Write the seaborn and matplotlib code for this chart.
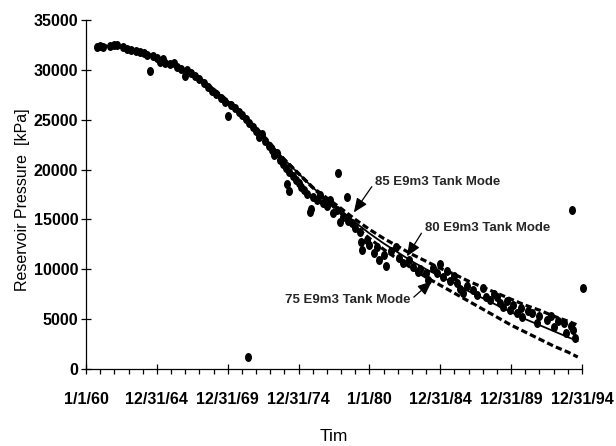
import matplotlib
matplotlib.use("Agg")
import matplotlib.pyplot as plt
from matplotlib import font_manager
from matplotlib.path import Path
from matplotlib.transforms import Affine2D
import seaborn as sns
import pandas as pd

# ---------------- data ----------------
obs_year = [1960.8, 1961.0, 1961.2, 1961.7, 1962.0, 1962.2, 1962.6, 1962.9, 1963.2, 1963.5,
            1963.8, 1964.1, 1964.3, 1964.5, 1964.7, 1965.0, 1965.2, 1965.4, 1965.6, 1965.9,
            1966.2, 1966.4, 1966.7, 1967.0, 1967.1, 1967.4, 1967.7, 1968.0, 1968.3, 1968.6,
            1968.9, 1969.2, 1969.5, 1969.8, 1970.0, 1970.2, 1970.5, 1970.8, 1971.0, 1971.3,
            1971.5, 1971.8, 1972.0, 1972.2, 1972.4, 1972.6, 1972.9, 1973.1, 1973.3, 1973.5,
            1973.7, 1973.9, 1974.1, 1974.2, 1974.3, 1974.3, 1974.6, 1974.8, 1975.0, 1975.2,
            1975.4, 1975.6, 1975.8, 1975.9, 1976.0, 1976.3, 1976.5, 1976.7, 1977.0, 1977.2,
            1977.4, 1977.7, 1977.8, 1977.9, 1978.1, 1978.4, 1978.5, 1978.8, 1979.0, 1979.3,
            1979.4, 1979.5, 1979.8, 1980.0, 1980.3, 1980.5, 1980.7, 1981.0, 1981.2, 1981.5,
            1981.9, 1982.1, 1982.4, 1982.8, 1983.1, 1983.4, 1983.6, 1984.0, 1984.1, 1984.5,
            1984.8, 1985.0, 1985.2, 1985.5, 1985.7, 1986.0, 1986.2, 1986.4, 1986.6, 1986.9,
            1987.3, 1987.6, 1988.0, 1988.2, 1988.5, 1988.8, 1989.0, 1989.2, 1989.4, 1989.7,
            1989.9, 1990.1, 1990.4, 1990.7, 1990.8, 1991.2, 1991.5, 1991.8, 1992.0, 1992.5,
            1992.8, 1993.0, 1993.3, 1993.7, 1993.9, 1994.2, 1994.4, 1994.5,
            1971.4, 1994.3, 1995.07]
obs_kpa = [32300, 32400, 32300, 32400, 32500, 32500, 32300, 32100, 32000, 31900,
           31800, 31700, 31500, 29900, 31400, 31200, 30800, 31100, 30700, 30600,
           30700, 30300, 30100, 29400, 30000, 29700, 29400, 29100, 28700, 28300,
           27900, 27600, 27200, 26800, 25400, 26500, 26200, 25800, 25500, 25100,
           24700, 24300, 23900, 23300, 23600, 22900, 22400, 22000, 21500, 21700,
           21000, 20600, 20200, 18600, 17900, 19800, 19400, 19000, 18700, 18300,
           18000, 17600, 15700, 16000, 17200, 16900, 17400, 16600, 16300, 16900,
           15600, 15900, 19700, 14700, 15200, 17200, 14800, 14600, 14100, 13700,
           12700, 11900, 12900, 12400, 11600, 12200, 10900, 11400, 10300, 11800,
           12200, 11100, 10600, 10900, 10200, 9700, 10000, 9600, 8900, 10100,
           9600, 10500, 9200, 9800, 8800, 9300, 8600, 8000, 7600, 8300,
           7900, 7400, 8100, 7200, 6900, 7500, 7200, 6600, 6200, 6800,
           5900, 6400, 5600, 6100, 5200, 5800, 5600, 4600, 5300, 4900,
           5300, 4200, 4800, 4600, 3600, 4300, 3900, 3100,
           1200, 15900, 8100]

model_year = [1961, 1962, 1964, 1966, 1968, 1970, 1972, 1974, 1976, 1977, 1978, 1979,
              1980, 1981, 1982, 1983, 1984, 1985, 1986, 1987, 1988, 1989, 1990, 1991,
              1992, 1993, 1994, 1994.7]
model_80 = [32400, 32400, 31800, 30600, 29200, 26900, 24200, 21000, 18200, 17000, 15900, 14700,
            13600, 12600, 11700, 10800, 10000, 9300, 8600, 7800, 7100, 6400, 5700, 5000,
            4400, 3800, 3200, 2800]
model_85 = [32400, 32400, 31800, 30600, 29200, 26900, 24200, 21000, 18200, 17150, 16100, 15000,
            14000, 13100, 12300, 11500, 10800, 10100, 9500, 8800, 8200, 7600, 7000, 6400,
            5900, 5300, 4800, 4400]
model_75 = [32400, 32400, 31800, 30600, 29200, 26900, 24200, 21000, 18200, 16850, 15600, 14300,
            13100, 12000, 11000, 10100, 9200, 8400, 7600, 6800, 6000, 5200, 4400, 3700,
            3000, 2300, 1700, 1200]

tick_years = [1960, 1965, 1970, 1975, 1980, 1985, 1990, 1995]
tick_labels = ["1/1/60", "12/31/64", "12/31/69", "12/31/74", "1/1/80", "12/31/84", "12/31/89", "12/31/94"]
y_ticks = [0, 5000, 10000, 15000, 20000, 25000, 30000, 35000]

labels = ["85 E9m3 Tank Mode", "80 E9m3 Tank Mode", "75 E9m3 Tank Mode"]
label_xy = [(1980.4, 18760), (1983.9, 14140), (1982.9, 6920)]
label_tip = [(1978.9, 15700), (1982.65, 11300), (1984.4, 8800)]

# ---------------- style ----------------
sns.set_style("white")
names = {f.name for f in font_manager.fontManager.ttflist}
narrow = "Liberation Sans Narrow" if "Liberation Sans Narrow" in names else "Liberation Sans"
plt.rcParams["font.family"] = ["Liberation Sans", "DejaVu Sans"]
plt.rcParams["xtick.bottom"] = True
plt.rcParams["ytick.left"] = True

fig = plt.figure(figsize=(6.16, 4.46), dpi=100)
ax = fig.add_axes([86 / 616, 1 - 369 / 446, (582 - 86) / 616, (369 - 20) / 446])

blob = Path.unit_circle().transformed(Affine2D().scale(0.78, 1.0))
obs = pd.DataFrame({"year": obs_year, "kpa": obs_kpa})
sns.scatterplot(data=obs, x="year", y="kpa", ax=ax, color="black", s=42,
                linewidth=0, marker=blob, clip_on=False, zorder=3)

sns.lineplot(x=model_year, y=model_80, ax=ax, color="black", lw=1.3,
             estimator=None, sort=False, zorder=4)
for series in (model_85, model_75):
    sns.lineplot(x=model_year, y=series, ax=ax, color="black", lw=2.3,
                 linestyle=(0, (2, 1)), estimator=None, sort=False, zorder=4)

ax.set_xlim(1960, 1995)
ax.set_ylim(0, 35000)
ax.set_xticks(tick_years)
ax.set_xticklabels(tick_labels)
ax.set_xticks([y for y in range(1961, 1995) if y % 5 != 0], minor=True)
ax.set_yticks(y_ticks)
ax.set_yticklabels([str(v) for v in y_ticks])

for sp in ("top", "right"):
    ax.spines[sp].set_visible(False)
for sp in ("left", "bottom"):
    ax.spines[sp].set_color("black")
    ax.spines[sp].set_linewidth(0.9)

ax.tick_params(axis="both", which="major", direction="inout", length=7, width=0.9,
               colors="black", bottom=True, left=True)
ax.tick_params(axis="x", which="minor", direction="out", length=3.5, width=0.9,
               colors="black", bottom=True)
ax.tick_params(axis="x", which="major", pad=13)
ax.tick_params(axis="y", which="major", pad=2)
for lab in ax.get_xticklabels() + ax.get_yticklabels():
    lab.set_fontfamily([narrow, "DejaVu Sans"])
    lab.set_fontweight("bold")
    lab.set_fontsize(11.5)

ax.set_xlabel("Tim", fontsize=12.5, color="black")
ax.set_ylabel("Reservoir Pressure  [kPa]", fontsize=11.5, color="black")
ax.xaxis.set_label_coords(0.5, -0.172)
ax.yaxis.set_label_coords(-0.112, 0.484)

for text, (tx, ty), (px, py), ha in zip(labels, label_xy, label_tip, ["left", "left", "right"]):
    ax.annotate(text, xy=(px, py), xytext=(tx, ty), ha=ha, va="center",
                fontsize=9.5, fontweight="bold", family=[narrow, "DejaVu Sans"],
                arrowprops=dict(arrowstyle="-|>,head_length=0.9,head_width=0.38",
                                color="black", lw=0.9, shrinkA=0, shrinkB=0,
                                relpos=(0 if ha == "left" else 1, 0.5)),
                zorder=5)

fig.savefig("out.png", dpi=100)
